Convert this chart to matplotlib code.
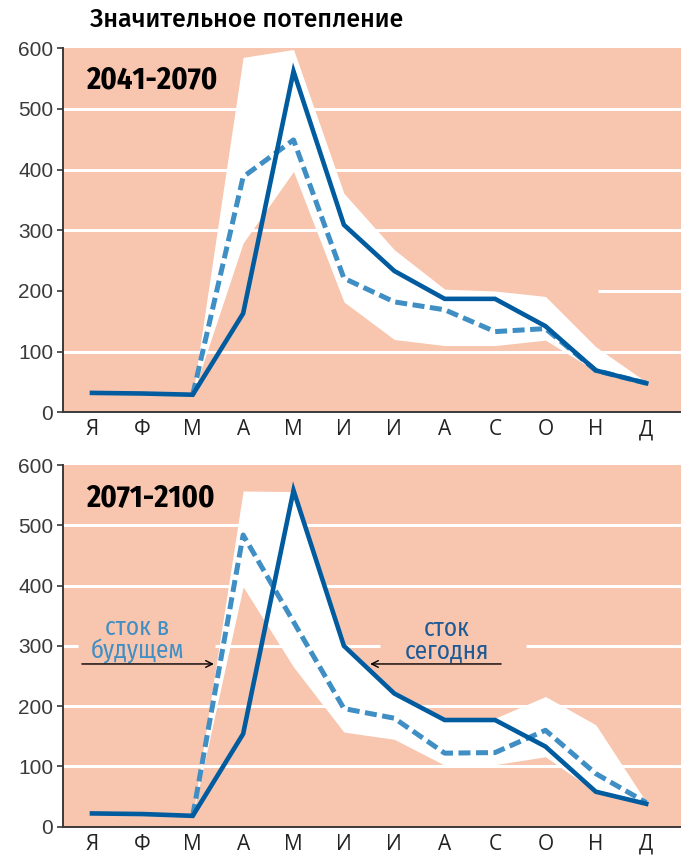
import matplotlib
matplotlib.use("Agg")
import matplotlib.pyplot as plt
from matplotlib import font_manager

# months (Russian initials) and monthly runoff values
MONTHS = ["Я", "Ф", "М", "А", "М", "И", "И", "А", "С", "О", "Н", "Д"]

# 2041-2070
TODAY_1 = [32, 31, 29, 163, 562, 309, 233, 187, 187, 142, 69, 48]
FUTURE_1 = [32, 31, 29, 388, 449, 221, 182, 169, 133, 138, 69, 48]
BAND_HI_1 = [32, 31, 29, 585, 598, 361, 268, 203, 200, 191, 108, 50]
BAND_LO_1 = [32, 31, 29, 279, 397, 182, 120, 110, 110, 119, 68, 45]

# 2071-2100
TODAY_2 = [22, 21, 18, 154, 558, 300, 221, 177, 177, 133, 58, 38]
FUTURE_2 = [22, 21, 18, 484, 340, 196, 180, 122, 123, 160, 88, 40]
BAND_HI_2 = [22, 21, 18, 557, 556, 305, 225, 180, 180, 216, 169, 41]
BAND_LO_2 = [22, 21, 18, 398, 265, 157, 145, 102, 103, 116, 58, 36]

YTICKS = [0, 100, 200, 300, 400, 500, 600]

BG = "#f8c5ae"
DARK = "#005b9f"
LIGHT = "#3f8ec4"
AXC = "#3a3a3a"

names = {f.name for f in font_manager.fontManager.ttflist}


def pick(*cands):
    for c in cands:
        if c in names:
            return [c, "DejaVu Sans"]
    return ["DejaVu Sans"]


F_TICK = pick("Liberation Sans", "Arial")
F_MONTH = pick("Open Sans", "Noto Sans")
F_NOTE = pick("Fira Sans Condensed", "Roboto Condensed")
F_BOLD = pick("Fira Sans Condensed", "Roboto Condensed")
F_TITLE = pick("Fira Sans", "Fira Sans Condensed", "Roboto")

fig = plt.figure(figsize=(6.81, 8.59), dpi=100)
ax1 = fig.add_axes([0.0925, 0.520, 0.9075, 0.4238])
ax2 = fig.add_axes([0.0925, 0.0376, 0.9075, 0.421])

x = list(range(len(MONTHS)))
XL, XR = -0.575, 11.69


def hline(ax, v, x0=XL, x1=XR):
    ax.plot([x0, x1], [v, v], color="white", lw=2.2, zorder=0.5, solid_capstyle="butt")


def panel(ax, today, future, hi, lo, label, label_y):
    ax.set_facecolor(BG)
    ax.set_xlim(XL, XR)
    ax.set_ylim(0, 600)
    ax.fill_between(x[2:], lo[2:], hi[2:], color="white", lw=0, zorder=1)
    ax.plot(x[2:], future[2:], color=LIGHT, lw=3.6, ls=(0, (2.4, 1.1)), zorder=2)
    ax.plot(x, today, color=DARK, lw=3.3, solid_joinstyle="miter", zorder=3)
    for s in ["top", "right"]:
        ax.spines[s].set_visible(False)
    for s in ["left", "bottom"]:
        ax.spines[s].set_color(AXC)
        ax.spines[s].set_linewidth(1.4)
        ax.spines[s].set_zorder(4)
    ax.set_yticks(YTICKS)
    ax.set_yticklabels([str(v) for v in YTICKS], family=F_TICK, fontsize=15, color=AXC)
    ax.set_xticks(x)
    ax.set_xticklabels(MONTHS, family=F_MONTH, fontsize=15, color="#222222")
    ax.tick_params(axis="y", length=4, width=1.2, color=AXC, pad=3)
    ax.tick_params(axis="x", length=0, pad=5)
    ax.text(0.037, label_y, label, transform=ax.transAxes, fontsize=22, fontweight="bold",
            family=F_BOLD, color="black", va="center", ha="left", zorder=5)


panel(ax1, TODAY_1, FUTURE_1, BAND_HI_1, BAND_LO_1, "2041-2070", 0.913)
panel(ax2, TODAY_2, FUTURE_2, BAND_HI_2, BAND_LO_2, "2071-2100", 0.909)

# gridlines (the picture leaves some of them short or broken)
for v in [100, 300, 400, 500]:
    hline(ax1, v)
hline(ax1, 200, 10.04)
for v in [100, 200, 400, 500]:
    hline(ax2, v)
hline(ax2, 300, XL, -0.28)
hline(ax2, 300, 2.45, 5.71)
hline(ax2, 300, 8.61, XR)

fig.text(90 / 681, 1 - 19 / 859, "Значительное потепление", fontsize=18, fontweight="medium",
         family=F_TITLE, color="black", ha="left", va="center")

# annotations in the lower panel
ax2.text(0.9, 310, "сток в\nбудущем", color=LIGHT, fontsize=18, fontweight="normal",
         ha="center", va="center", family=F_NOTE, linespacing=0.92, zorder=5)
ax2.text(7.04, 310, "сток\nсегодня", color="#1d5a96", fontsize=18, fontweight="normal",
         ha="center", va="center", family=F_NOTE, linespacing=0.92, zorder=5)
ax2.annotate("", xy=(2.42, 270), xytext=(-0.2, 270),
             arrowprops=dict(arrowstyle="->", color="black", lw=1.0, mutation_scale=12,
                             shrinkA=0, shrinkB=0), zorder=6)
ax2.annotate("", xy=(5.52, 270), xytext=(8.12, 270),
             arrowprops=dict(arrowstyle="->", color="black", lw=1.0, mutation_scale=12,
                             shrinkA=0, shrinkB=0), zorder=6)

fig.savefig("out.png", dpi=100)
